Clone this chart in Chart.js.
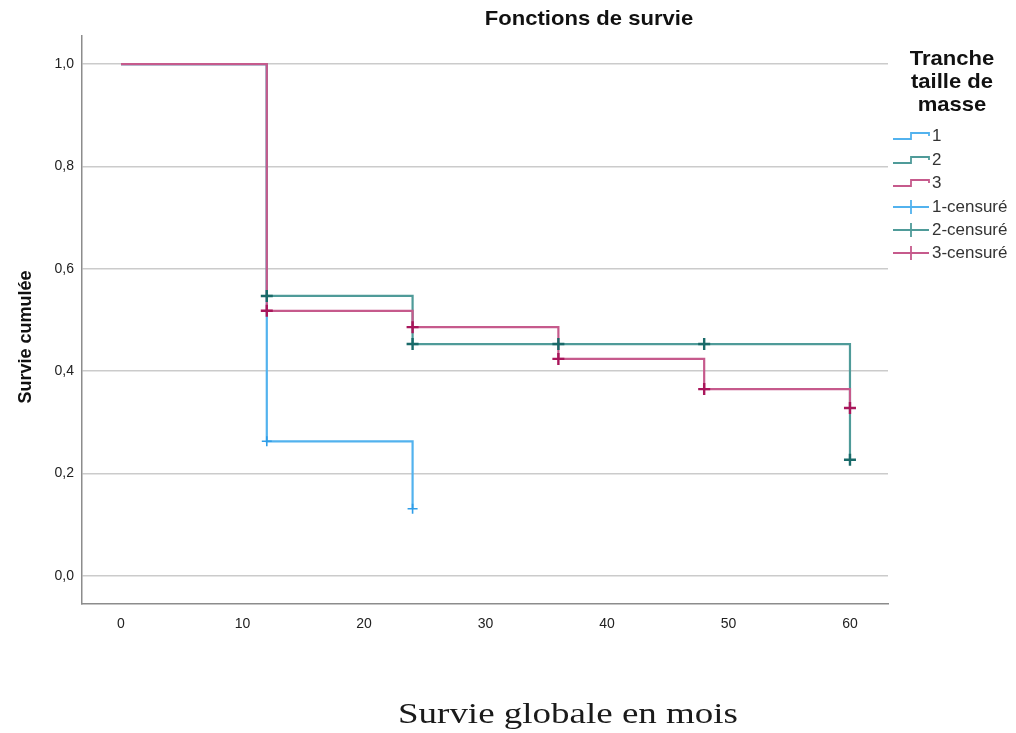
<!DOCTYPE html>
<html>
<head>
<meta charset="utf-8">
<script src="https://cdn.jsdelivr.net/npm/chart.js@4"></script>
<style>
  html, body { margin: 0; padding: 0; background: #ffffff; }
  #wrap { width: 1016px; height: 733px; }
</style>
</head>
<body>
<div id="wrap"><canvas id="c" width="1016" height="733"></canvas></div>
<script>
// Kaplan-Meier curves by tumour-size band (months vs cumulative survival)
const groupLabels = ['1', '2', '3'];
const censoredLabels = ['1-censuré', '2-censuré', '3-censuré'];
const xTicks = [0, 10, 20, 30, 40, 50, 60];
const yTicks = [0, 0.2, 0.4, 0.6, 0.8, 1.0];

const months1 = [0, 12, 24];
const survie1 = [1.0, 0.263, 0.131];
const months2 = [0, 12, 24, 60];
const survie2 = [1.0, 0.547, 0.453, 0.227];
const months3 = [0, 12, 24, 36, 48, 60];
const survie3 = [1.0, 0.518, 0.486, 0.424, 0.365, 0.328];

const censMonths1 = [12, 24];
const censSurvie1 = [0.263, 0.131];
const censMonths2 = [12, 24, 36, 48, 60];
const censSurvie2 = [0.547, 0.453, 0.453, 0.453, 0.227];
const censMonths3 = [12, 24, 36, 48, 60];
const censSurvie3 = [0.518, 0.486, 0.424, 0.365, 0.328];

const lineColors = ['#52b2ee', '#4f9b99', '#c65a8c'];
const markColors = ['#2f9de8', '#196a69', '#a9165b'];

const toPoints = (xs, ys) => xs.map((x, i) => ({ x: x, y: ys[i] }));

function stepSet(i, xs, ys, order) {
  return {
    label: groupLabels[i], kind: 'step', colorIndex: i,
    data: toPoints(xs, ys), stepped: 'before',
    borderColor: lineColors[i], borderWidth: 2.2,
    pointRadius: 0, pointHoverRadius: 0, fill: false, order: order
  };
}
function censSet(i, xs, ys, order, radius, width) {
  return {
    label: censoredLabels[i], kind: 'cens', colorIndex: i,
    data: toPoints(xs, ys), showLine: false,
    pointStyle: 'cross', pointRadius: radius, pointHoverRadius: radius,
    pointBorderWidth: width, pointBorderColor: markColors[i],
    pointBackgroundColor: markColors[i], borderColor: markColors[i], order: order
  };
}

const datasets = [
  stepSet(0, months1, survie1, 6),
  stepSet(1, months2, survie2, 5),
  stepSet(2, months3, survie3, 4),
  censSet(0, censMonths1, censSurvie1, 3, 5, 1.6),
  censSet(1, censMonths2, censSurvie2, 2, 6, 2.4),
  censSet(2, censMonths3, censSurvie3, 1, 6, 2.4)
];

function stretchedText(ctx, text, x, y, font, align, sx, color) {
  ctx.save();
  ctx.font = font;
  ctx.fillStyle = color;
  ctx.textBaseline = 'alphabetic';
  ctx.textAlign = align;
  ctx.translate(x, y);
  ctx.scale(sx, 1);
  ctx.fillText(text, 0, 0);
  ctx.restore();
}

// Titles for the chart and both axes
const titlesPlugin = {
  id: 'titles',
  afterDraw(chart) {
    const ctx = chart.ctx;
    stretchedText(ctx, 'Fonctions de survie', 589, 25,
      'bold 21px "Liberation Sans", Arial, sans-serif', 'center', 1.05, '#111');

    ctx.save();
    ctx.font = '30px "Liberation Serif", "Times New Roman", serif';
    const xt = 'Survie globale en mois';
    const sx = 340 / ctx.measureText(xt).width;
    ctx.restore();
    stretchedText(ctx, xt, 568, 723,
      '30px "Liberation Serif", "Times New Roman", serif', 'center', sx, '#1a1a1a');

    ctx.save();
    ctx.font = 'bold 18px "Liberation Sans", Arial, sans-serif';
    ctx.fillStyle = '#111';
    ctx.textAlign = 'center';
    ctx.textBaseline = 'alphabetic';
    ctx.translate(31, 337);
    ctx.rotate(-Math.PI / 2);
    ctx.fillText('Survie cumulée', 0, 0);
    ctx.restore();
  }
};

// Legend on the right: step icons for curves, crosses for censored cases
const sideLegendPlugin = {
  id: 'sideLegend',
  afterDraw(chart) {
    const ctx = chart.ctx;
    const titleLines = ['Tranche', 'taille de', 'masse'];
    const titleBase = [65, 88, 111];
    titleLines.forEach((t, i) => stretchedText(ctx, t, 952, titleBase[i],
      'bold 21px "Liberation Sans", Arial, sans-serif', 'center', 1.05, '#111'));

    const rowY = [136, 160, 183, 207, 230, 253];
    const x0 = 893, xm = 911, x1 = 929;
    chart.data.datasets.forEach((ds, k) => {
      const c = rowY[k];
      ctx.save();
      ctx.lineWidth = 1.8;
      ctx.strokeStyle = lineColors[ds.colorIndex];
      ctx.beginPath();
      if (ds.kind === 'step') {
        ctx.moveTo(x0, c + 3);
        ctx.lineTo(xm, c + 3);
        ctx.lineTo(xm, c - 3);
        ctx.lineTo(x1, c - 3);
        ctx.lineTo(x1, c);
      } else {
        ctx.moveTo(x0, c);
        ctx.lineTo(x1, c);
        ctx.moveTo(xm, c - 7);
        ctx.lineTo(xm, c + 7);
      }
      ctx.stroke();
      ctx.restore();
      ctx.save();
      ctx.font = '16px "Liberation Sans", Arial, sans-serif';
      ctx.fillStyle = '#333';
      ctx.textBaseline = 'middle';
      ctx.textAlign = 'left';
      ctx.translate(x1 + 3, c + 1);
      ctx.scale(1.06, 1);
      ctx.fillText(ds.label, 0, 0);
      ctx.restore();
    });
  }
};

Chart.defaults.font.family = '"Liberation Sans", Arial, sans-serif';

new Chart(document.getElementById('c'), {
  type: 'line',
  data: { datasets: datasets },
  options: {
    responsive: false,
    devicePixelRatio: 1,
    animation: false,
    events: [],
    layout: { padding: { left: 0, top: 36, right: 128, bottom: 0 } },
    plugins: { legend: { display: false }, title: { display: false }, tooltip: { enabled: false } },
    scales: {
      x: {
        type: 'linear', min: -3.21, max: 63.13,
        afterFit: s => { s.height = 129; },
        afterBuildTicks: s => { s.ticks = xTicks.map(v => ({ value: v })); },
        grid: { display: false, drawTicks: false },
        border: { display: true, color: '#8c8c8c', width: 1.5 },
        ticks: { padding: 12, color: '#222', font: { size: 14 }, maxRotation: 0,
                 callback: v => String(v) }
      },
      y: {
        type: 'linear', min: -0.055, max: 1.055,
        afterFit: s => { s.width = 82; },
        afterBuildTicks: s => { s.ticks = yTicks.map(v => ({ value: v })); },
        grid: { display: true, drawTicks: false, color: '#cbcbcb', lineWidth: 1.5 },
        border: { display: true, color: '#8c8c8c', width: 1.5 },
        ticks: { padding: 8, color: '#222', font: { size: 14 },
                 callback: v => v.toFixed(1).replace('.', ',') }
      }
    }
  },
  plugins: [titlesPlugin, sideLegendPlugin]
});
</script>
</body>
</html>
